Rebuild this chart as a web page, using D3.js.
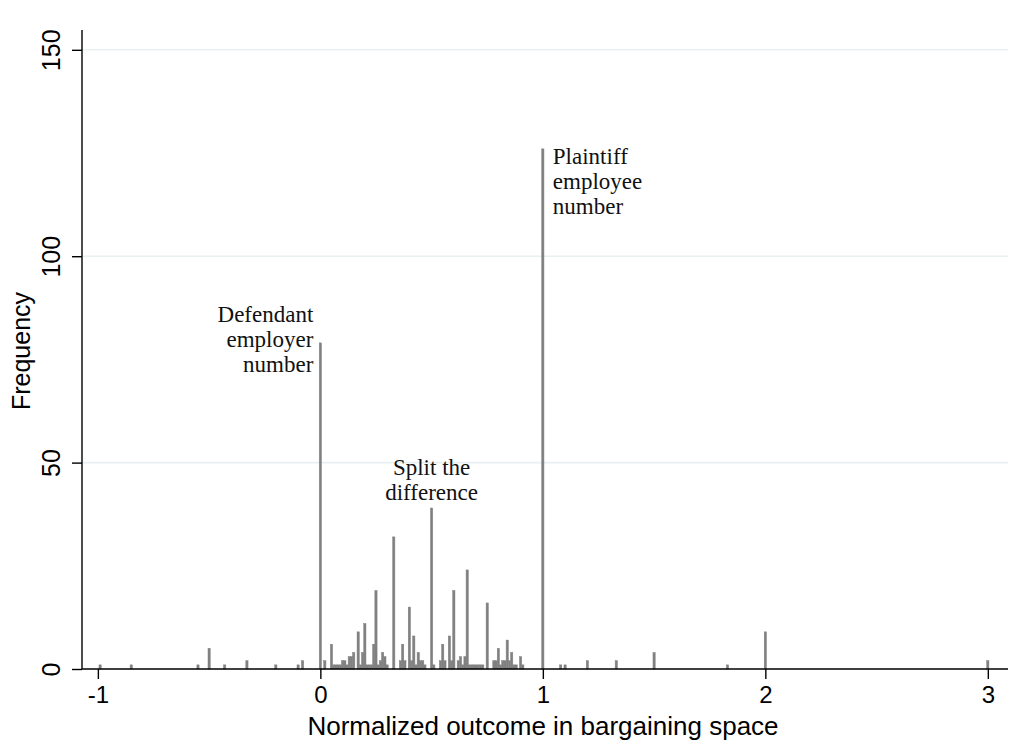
<!DOCTYPE html>
<html>
<head>
<meta charset="utf-8">
<script src="https://cdn.jsdelivr.net/npm/d3@7"></script>
<style>
  html, body { margin: 0; padding: 0; background: #fff; }
  svg { display: block; }
</style>
</head>
<body>
<svg id="chart" width="1021" height="751"></svg>
<script>
// Histogram of normalized outcomes (bin width 0.01); each value is a bin centre
const outcomes = [
  -0.99, -0.85, -0.55, -0.50, -0.43, -0.33, -0.20, -0.10, -0.08,
  0.00, 0.02, 0.05, 0.06, 0.07, 0.08, 0.09, 0.10, 0.11, 0.12, 0.13, 0.14, 0.15,
  0.17, 0.18, 0.19, 0.20, 0.21, 0.22, 0.23, 0.24, 0.25, 0.26, 0.27, 0.28, 0.29, 0.30,
  0.33, 0.36, 0.37, 0.38, 0.40, 0.41, 0.42, 0.43, 0.44, 0.45, 0.46, 0.47,
  0.50, 0.51, 0.54, 0.55, 0.56, 0.58, 0.59, 0.60, 0.62, 0.63, 0.64, 0.65, 0.66, 0.67,
  0.68, 0.69, 0.70, 0.71, 0.72, 0.73, 0.75, 0.78, 0.79, 0.80, 0.81, 0.82, 0.83,
  0.84, 0.85, 0.86, 0.87, 0.88, 0.90, 0.91,
  1.00, 1.08, 1.10, 1.20, 1.33, 1.50, 1.83, 2.00, 3.00
];
const frequencies = [
  1, 1, 1, 5, 1, 2, 1, 1, 2,
  79, 2, 6, 1, 1, 1, 1, 2, 2, 1, 3, 3, 4,
  9, 1, 4, 11, 1, 1, 1, 6, 19, 1, 2, 4, 3, 1,
  32, 2, 6, 2, 15, 2, 8, 1, 4, 2, 2, 1,
  39, 1, 2, 6, 2, 8, 2, 19, 2, 3, 1, 3, 24, 1,
  1, 1, 1, 1, 1, 1, 16, 2, 2, 5, 1, 2, 2,
  7, 2, 4, 1, 1, 3, 1,
  126, 1, 1, 2, 2, 4, 1, 9, 2
];

const xTicks = [-1, 0, 1, 2, 3];
const yTicks = [0, 50, 100, 150];

// Text callouts placed beside the three spikes; dy is the first baseline offset from the bar top
const notes = [
  { x: 0, y: 79, anchor: "end", dx: -7, dy: -21, lines: ["Defendant", "employer", "number"] },
  { x: 0.5, y: 39, anchor: "middle", dx: 0, dy: -33, lines: ["Split the", "difference"] },
  { x: 1, y: 126, anchor: "start", dx: 10, dy: 15, lines: ["Plaintiff", "employee", "number"] }
];

const binWidth = 0.01;
const data = outcomes.map((v, i) => ({ v, n: frequencies[i] }));

const svg = d3.select("#chart");
const plotLeft = 82, plotRight = 1008, plotTop = 30, plotBottom = 669;
const sans = "Liberation Sans, Arial, Helvetica, sans-serif";

const x = d3.scaleLinear().domain([-1.0713, 3.0907]).range([plotLeft, plotRight]);
const y = d3.scaleLinear().domain([0, 154.8]).range([plotBottom, plotTop]);

// horizontal grid lines
svg.append("g")
  .selectAll("line")
  .data(yTicks.filter(d => d > 0))
  .join("line")
  .attr("x1", plotLeft).attr("x2", plotRight)
  .attr("y1", d => y(d)).attr("y2", d => y(d))
  .attr("stroke", "#e8f0f1").attr("stroke-width", 1.6);

// bars (thin outline in the fill colour, as in the histogram style)
svg.append("g")
  .selectAll("rect")
  .data(data)
  .join("rect")
  .attr("x", d => x(d.v - binWidth / 2))
  .attr("width", d => x(d.v + binWidth / 2) - x(d.v - binWidth / 2))
  .attr("y", d => y(d.n))
  .attr("height", d => y(0) - y(d.n))
  .attr("fill", "#808080")
  .attr("stroke", "#808080")
  .attr("stroke-width", 0.5);

// y axis
const yAxis = svg.append("g")
  .attr("transform", `translate(${plotLeft},0)`)
  .call(d3.axisLeft(y).tickValues(yTicks).tickSize(10).tickPadding(0).tickFormat(d3.format("d")));
yAxis.select(".domain").attr("d", `M0,${plotTop}V${plotBottom}`).attr("stroke", "#000").attr("stroke-width", 1.4);
yAxis.selectAll(".tick line").attr("stroke", "#000").attr("stroke-width", 1.4);
yAxis.selectAll(".tick text")
  .attr("x", null).attr("dy", null)
  .attr("text-anchor", "middle")
  .attr("transform", "translate(-22,0) rotate(-90)")
  .attr("font-family", sans)
  .attr("font-size", 25)
  .attr("fill", "#000");

// x axis
const xAxis = svg.append("g")
  .attr("transform", `translate(0,${plotBottom})`)
  .call(d3.axisBottom(x).tickValues(xTicks).tickSize(10).tickPadding(7).tickFormat(d3.format("d")));
xAxis.select(".domain").attr("d", `M${plotLeft},0H${plotRight}`).attr("stroke", "#000").attr("stroke-width", 1.4);
xAxis.selectAll(".tick line").attr("stroke", "#000").attr("stroke-width", 1.4);
xAxis.selectAll(".tick text")
  .attr("font-family", sans)
  .attr("font-size", 24)
  .attr("fill", "#000")
  .text(d => d < 0 ? "-" + Math.abs(d) : d);

// axis titles
svg.append("text")
  .attr("x", (plotLeft + plotRight) / 2 - 2).attr("y", 735)
  .attr("text-anchor", "middle")
  .attr("font-family", sans)
  .attr("font-size", 26)
  .text("Normalized outcome in bargaining space");

svg.append("text")
  .attr("transform", `translate(30,351) rotate(-90)`)
  .attr("text-anchor", "middle")
  .attr("font-family", sans)
  .attr("font-size", 25)
  .text("Frequency");

// callouts
const lineGap = 25;
notes.forEach(nt => {
  const t = svg.append("text")
    .attr("text-anchor", nt.anchor)
    .attr("font-family", "Liberation Serif, Times New Roman, serif")
    .attr("font-size", 23)
    .attr("fill", "#111");
  nt.lines.forEach((ln, i) => {
    t.append("tspan")
      .attr("x", x(nt.x) + nt.dx)
      .attr("y", y(nt.y) + nt.dy + i * lineGap)
      .text(ln);
  });
});
</script>
</body>
</html>
